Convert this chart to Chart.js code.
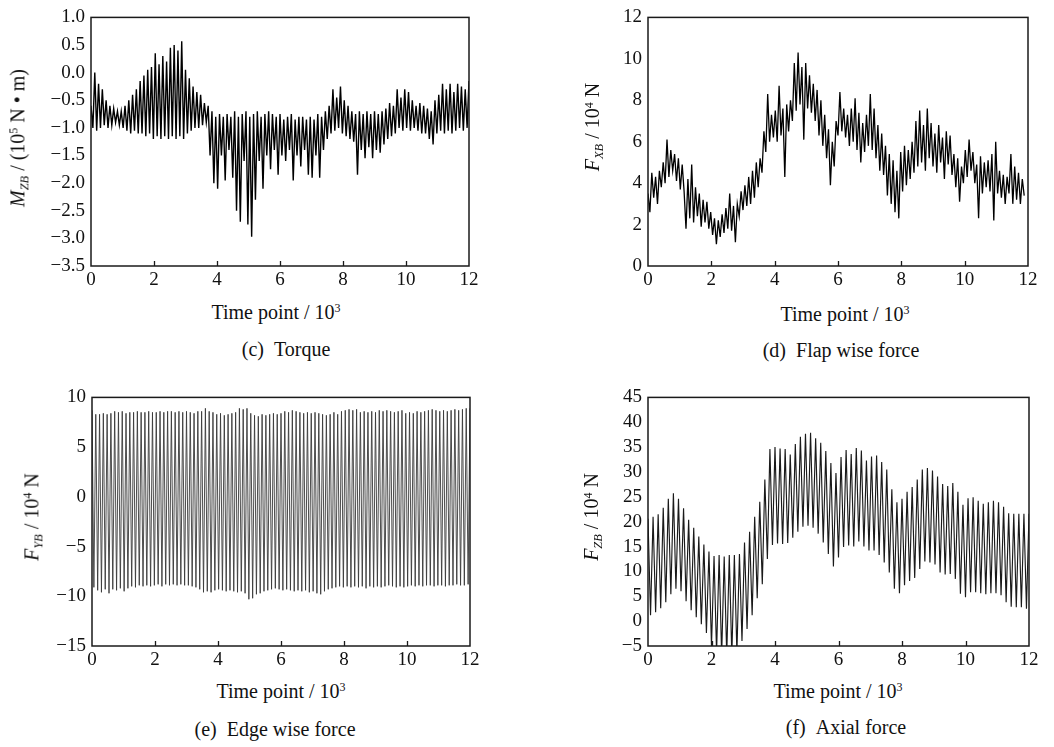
<!DOCTYPE html>
<html>
<head>
<meta charset="utf-8">
<script src="https://cdn.jsdelivr.net/npm/chart.js@4.4.1/dist/chart.umd.min.js"></script>
<style>
  html, body { margin: 0; padding: 0; background: #fff; }
  body { width: 1054px; height: 747px; position: relative; overflow: hidden;
         font-family: 'Liberation Serif', 'Times New Roman', serif; color: #111; }
  .pane { position: absolute; width: 490px; height: 300px; }
  .lbl { position: absolute; white-space: nowrap; transform: translate(-50%, -50%); font-size: 20px; line-height: 1; }
  .rot { transform: translate(-50%, -50%) rotate(-90deg); }
  .lbl sub { font-size: 0.62em; vertical-align: -0.3em; }
  .lbl sup { font-size: 0.6em; vertical-align: 0.55em; }
</style>
</head>
<body>
<div class="pane" style="left:0px;top:0px;"><canvas id="cT" width="490" height="300"></canvas></div>
<div class="pane" style="left:560px;top:0px;"><canvas id="cF" width="490" height="300"></canvas></div>
<div class="pane" style="left:0px;top:380px;"><canvas id="cE" width="490" height="300"></canvas></div>
<div class="pane" style="left:560px;top:380px;"><canvas id="cA" width="490" height="300"></canvas></div>

<div class="lbl rot" style="left:19px;top:138px;"><i>M</i><sub><i>ZB</i></sub> / (10<sup>5</sup> N • m)</div>
<div class="lbl rot" style="left:594px;top:127px;"><i>F</i><sub><i>XB</i></sub> / 10<sup>4</sup> N</div>
<div class="lbl rot" style="left:33px;top:517px;"><i>F</i><sub><i>YB</i></sub> / 10<sup>4</sup> N</div>
<div class="lbl rot" style="left:593px;top:517px;"><i>F</i><sub><i>ZB</i></sub> / 10<sup>4</sup> N</div>

<div class="lbl" style="left:276px;top:312px;">Time point / 10<sup>3</sup></div>
<div class="lbl" style="left:845px;top:314px;">Time point / 10<sup>3</sup></div>
<div class="lbl" style="left:281px;top:691px;">Time point / 10<sup>3</sup></div>
<div class="lbl" style="left:838px;top:691px;">Time point / 10<sup>3</sup></div>

<div class="lbl" style="left:286px;top:349px;">(c)&nbsp;&nbsp;Torque</div>
<div class="lbl" style="left:841px;top:350px;">(d)&nbsp;&nbsp;Flap wise force</div>
<div class="lbl" style="left:275px;top:729px;">(e)&nbsp;&nbsp;Edge wise force</div>
<div class="lbl" style="left:846px;top:727px;">(f)&nbsp;&nbsp;Axial force</div>

<script>
// ---- time points (in 10^3) ----
const timeA = [0,0.08,0.16,0.24,0.32,0.4,0.48,0.56,0.64,0.72,0.8,0.88,0.96,1.04,1.12,1.2,1.28,1.36,1.44,1.52,1.6,1.68,1.76,1.84,1.92,2,2.08,2.16,2.24,2.32,2.4,2.48,2.56,2.64,2.72,2.8,2.88,2.96,3.04,3.12,3.2,3.28,3.36,3.44,3.52,3.6,3.68,3.76,3.84,3.92,4,4.08,4.16,4.24,4.32,4.4,4.48,4.56,4.64,4.72,4.8,4.88,4.96,5.04,5.12,5.2,5.28,5.36,5.44,5.52,5.6,5.68,5.76,5.84,5.92,6,6.08,6.16,6.24,6.32,6.4,6.48,6.56,6.64,6.72,6.8,6.88,6.96,7.04,7.12,7.2,7.28,7.36,7.44,7.52,7.6,7.68,7.76,7.84,7.92,8,8.08,8.16,8.24,8.32,8.4,8.48,8.56,8.64,8.72,8.8,8.88,8.96,9.04,9.12,9.2,9.28,9.36,9.44,9.52,9.6,9.68,9.76,9.84,9.92,10,10.08,10.16,10.24,10.32,10.4,10.48,10.56,10.64,10.72,10.8,10.88,10.96,11.04,11.12,11.2,11.28,11.36,11.44,11.52,11.6,11.68,11.76,11.84,11.92,12];

const timeB = [0,0.06,0.12,0.18,0.24,0.3,0.36,0.42,0.48,0.54,0.6,0.66,0.72,0.78,0.84,0.9,0.96,1.02,1.08,1.14,1.2,1.26,1.32,1.38,1.44,1.5,1.56,1.62,1.68,1.74,1.8,1.86,1.92,1.98,2.04,2.1,2.16,2.22,2.28,2.34,2.4,2.46,2.52,2.58,2.64,2.7,2.76,2.82,2.88,2.94,3,3.06,3.12,3.18,3.24,3.3,3.36,3.42,3.48,3.54,3.6,3.66,3.72,3.78,3.84,3.9,3.96,4.02,4.08,4.14,4.2,4.26,4.32,4.38,4.44,4.5,4.56,4.62,4.68,4.74,4.8,4.86,4.92,4.98,5.04,5.1,5.16,5.22,5.28,5.34,5.4,5.46,5.52,5.58,5.64,5.7,5.76,5.82,5.88,5.94,6,6.06,6.12,6.18,6.24,6.3,6.36,6.42,6.48,6.54,6.6,6.66,6.72,6.78,6.84,6.9,6.96,7.02,7.08,7.14,7.2,7.26,7.32,7.38,7.44,7.5,7.56,7.62,7.68,7.74,7.8,7.86,7.92,7.98,8.04,8.1,8.16,8.22,8.28,8.34,8.4,8.46,8.52,8.58,8.64,8.7,8.76,8.82,8.88,8.94,9,9.06,9.12,9.18,9.24,9.3,9.36,9.42,9.48,9.54,9.6,9.66,9.72,9.78,9.84,9.9,9.96,10.02,10.08,10.14,10.2,10.26,10.32,10.38,10.44,10.5,10.56,10.62,10.68,10.74,10.8,10.86,10.92,10.98,11.04,11.1,11.16,11.22,11.28,11.34,11.4,11.46,11.52,11.58,11.64,11.7,11.76,11.82,11.88,11.94,12];

// ---- (c) Torque M_ZB, 10^5 N·m (on timeB) ----
const torque = [
 -0.6,-1.0,0.0,-1.05,-0.2,-1.0,
 -0.3,-0.95,-0.5,-1.0,-0.6,-0.95,-0.65,-0.9,-0.7,-0.95,
 -0.7,-1.0,-0.6,-1.05,-0.5,-1.1,-0.4,-1.05,-0.3,-1.1,
 -0.15,-1.1,-0.05,-1.15,0.05,-1.1,0.1,-1.2,0.35,-1.15,
 0.15,-1.2,0.3,-1.15,0.2,-1.2,0.45,-1.15,0.5,-1.2,
 0.4,-1.15,0.57,-1.2,0.05,-1.1,-0.1,-1.05,-0.25,-1.0,
 -0.35,-1.0,-0.4,-0.95,-0.55,-0.9,-0.6,-1.5,-0.7,-2.0,
 -0.8,-2.1,-0.75,-1.5,-0.8,-1.95,-0.75,-1.4,-0.8,-1.9,
 -0.7,-2.5,-0.8,-2.7,-0.75,-1.6,-0.7,-2.75,-0.8,-2.97,
 -0.75,-2.3,-0.7,-1.6,-0.8,-2.1,-0.75,-1.5,-0.7,-1.75,
 -0.75,-1.4,-0.8,-1.85,-0.75,-1.5,-0.85,-1.6,-0.8,-1.4,
 -0.75,-1.95,-0.85,-1.5,-0.8,-1.7,-0.8,-1.4,-0.85,-1.85,
 -0.8,-1.9,-0.85,-1.5,-0.75,-1.9,-0.8,-1.4,-0.7,-1.2,
 -0.6,-1.1,-0.3,-1.05,-0.45,-1.0,-0.25,-1.1,-0.5,-1.15,
 -0.6,-1.2,-0.7,-1.25,-0.75,-1.85,-0.7,-1.4,-0.75,-1.55,
 -0.7,-1.35,-0.75,-1.55,-0.7,-1.4,-0.75,-1.45,-0.7,-1.3,
 -0.65,-1.2,-0.55,-1.15,-0.6,-1.1,-0.3,-1.0,-0.45,-1.05,
 -0.3,-1.0,-0.35,-1.05,-0.5,-1.0,-0.6,-1.05,-0.55,-1.1,
 -0.6,-1.1,-0.65,-1.2,-0.7,-1.3,-0.5,-1.1,-0.4,-1.05,
 -0.2,-1.1,-0.3,-1.05,-0.2,-1.1,-0.35,-1.05,-0.2,-1.0,
 -0.25,-1.05,-0.3,-1.0,-0.15];

// ---- (d) Flap wise force F_XB, 10^4 N (on timeB) ----
const flapwise = [
 3.5,2.6,4.5,3.3,4.3,3.0,4.6,3.8,5.0,4.0,
 6.1,4.3,5.6,4.6,5.4,4.1,5.2,3.7,4.9,3.6,
 1.8,4.2,2.3,4.9,2.1,3.8,2.4,3.5,1.9,3.2,
 2.1,3.1,1.8,2.6,1.5,2.3,1.05,2.2,1.4,2.5,
 1.6,2.8,1.8,3.5,1.7,2.9,1.15,3.0,2.4,3.6,
 2.7,3.9,2.9,4.3,3.0,4.6,3.3,5.0,3.8,5.2,
 4.5,6.5,5.5,8.3,6.0,7.3,6.2,7.5,6.0,8.7,
 6.3,7.6,4.3,7.8,6.5,8.0,7.0,9.8,7.5,10.3,
 7.8,9.6,6.1,9.8,7.6,9.2,7.4,8.8,7.0,8.5,
 6.3,8.0,5.8,7.3,5.2,6.6,3.9,6.0,4.8,7.0,
 6.3,8.4,6.5,7.6,6.2,7.3,5.8,7.6,6.0,8.1,
 5.6,7.4,5.0,6.9,5.5,7.3,5.8,8.3,5.6,7.6,
 5.2,6.8,4.6,6.4,4.4,5.8,3.4,5.4,3.0,5.1,
 2.6,4.6,2.3,5.5,3.6,5.8,3.9,5.6,4.2,6.0,
 4.5,7.0,4.8,7.5,5.0,6.8,4.6,7.6,5.2,6.9,
 4.8,6.4,4.5,6.8,5.0,6.2,4.2,6.5,4.9,6.3,
 4.4,5.4,3.8,5.2,3.1,4.8,4.0,5.6,4.3,6.1,
 4.6,5.5,4.0,4.9,2.3,5.3,3.5,5.0,3.8,5.1,
 3.6,5.4,2.2,6.0,3.5,4.6,3.3,4.4,3.0,4.3,
 3.5,5.4,3.0,4.8,3.2,4.5,3.0,4.2,3.4];

// ---- (e) Edge wise force F_YB, 10^4 N (on timeB) ----
const edgewise = [
 8.7,-9.1,8.3,-9.4,8.3,-9.6,8.4,-9.3,8.3,-9.7,
 8.4,-9.3,8.6,-9.4,8.5,-9.2,8.6,-9.5,8.4,-9.2,
 8.5,-9.0,8.5,-9.1,8.6,-8.9,8.5,-9.0,8.5,-8.9,
 8.6,-9.0,8.5,-8.9,8.5,-8.8,8.6,-9.0,8.5,-8.8,
 8.6,-8.9,8.6,-8.8,8.5,-8.9,8.6,-8.8,8.5,-8.9,
 8.6,-8.9,8.5,-9.0,8.4,-9.1,8.6,-9.3,8.6,-9.6,
 8.9,-9.5,8.6,-9.6,8.5,-9.4,8.3,-9.3,8.4,-9.4,
 8.2,-9.5,8.3,-9.4,8.4,-9.5,8.5,-9.6,8.9,-9.5,
 8.8,-9.7,8.9,-10.3,8.4,-10.2,8.2,-9.8,8.1,-9.7,
 8.3,-9.5,8.2,-9.4,8.3,-9.3,8.4,-9.2,8.3,-9.3,
 8.4,-9.4,8.6,-9.3,8.5,-9.4,8.7,-9.5,8.6,-9.4,
 8.5,-9.5,8.4,-9.4,8.5,-9.6,8.4,-9.5,8.5,-9.7,
 8.4,-9.8,8.3,-9.5,8.2,-9.3,8.3,-9.2,8.5,-9.1,
 8.3,-9.0,8.6,-9.1,8.7,-9.0,8.8,-9.1,8.7,-9.0,
 8.8,-9.1,8.5,-9.0,8.6,-9.2,8.5,-9.0,8.6,-9.1,
 8.5,-9.0,8.7,-9.1,8.6,-9.0,8.7,-8.9,8.6,-9.0,
 8.5,-9.1,8.6,-9.0,8.7,-9.1,8.4,-9.0,8.5,-8.9,
 8.4,-9.0,8.6,-8.9,8.5,-9.0,8.6,-8.9,8.7,-8.9,
 8.8,-9.0,8.7,-8.9,8.6,-8.9,8.7,-9.0,8.6,-8.9,
 8.7,-8.9,8.8,-8.8,8.7,-8.9,8.8,-8.9,8.9,-8.8,8.9];

// ---- (f) Axial force F_ZB, 10^4 N (on timeA) ----
const axial = [
 20.6,1.2,21,1.8,21.5,2.6,22.8,3.8,24.6,5.4,
 25.7,6.5,24.6,6.0,22.7,4.0,20.4,2.2,18.8,0.8,
 17.0,-0.6,15.4,-2.4,14.0,-5.1,13.1,-6.5,13.3,-7,
 13.0,-7,13.3,-7,13.3,-6.5,13.5,-4.0,15.8,-1.6,
 18.0,1.2,21.0,4.6,24.0,7.4,28.5,12.5,34.6,15.3,
 35.0,15.6,34.7,15.5,34.6,15.7,33.5,16.8,35.6,18.0,
 37.1,19.0,37.7,19.2,37.9,18.8,36.8,17.6,35.9,15.8,
 34.2,13.5,31.8,11.0,29.8,12.8,33.0,14.9,34.4,15.2,
 33.6,15.0,34.8,16.0,34.3,15.0,32.3,14.2,33.1,14.2,
 33.3,13.3,32.0,11.8,30.5,9.8,26.5,6.5,23.9,5.6,
 24.6,7.2,26.0,8.1,27.0,8.7,28.5,10.5,30.5,12.0,
 30.8,11.8,30.3,11.4,29.1,9.8,27.6,9.4,27.2,9.5,
 27.8,8.5,26.0,5.5,23.4,4.8,24.7,5.8,24.9,5.8,
 24.2,5.6,23.6,5.4,23.9,5.6,24.2,5.6,23.9,5.2,
 23.0,3.8,21.7,2.9,21.6,2.8,21.6,2.8,21.6,2.5,
 21.6];

// ---- tick labels ----
const xTicks = [0, 2, 4, 6, 8, 10, 12];
const torqueTicks = [-3.5, -3.0, -2.5, -2.0, -1.5, -1.0, -0.5, 0.0, 0.5, 1.0];
const flapTicks = [0, 2, 4, 6, 8, 10, 12];
const edgeTicks = [-15, -10, -5, 0, 5, 10];
const axialTicks = [-5, 0, 5, 10, 15, 20, 25, 30, 35, 40, 45];

const fmtMinus = v => String(v).replace('-', '\u2212');
const fmtOneDec = v => v.toFixed(1).replace('-', '\u2212');

Chart.defaults.font.family = "'Liberation Serif', 'Times New Roman', serif";
Chart.defaults.font.size = 19;
Chart.defaults.color = '#111';

const framePlugin = {
  id: 'frame',
  afterDatasetsDraw(chart) {
    const { ctx, chartArea: a, scales } = chart;
    const x = scales.x;
    ctx.save();
    ctx.strokeStyle = '#1a1a1a';
    ctx.lineWidth = 1.5;
    ctx.strokeRect(a.left, a.top, a.right - a.left, a.bottom - a.top);
    ctx.lineWidth = 1.3;
    x.ticks.forEach(t => {
      if (t.value > x.min && t.value < x.max) {
        const px = Math.round(x.getPixelForValue(t.value)) + 0.5;
        ctx.beginPath();
        ctx.moveTo(px, a.bottom);
        ctx.lineTo(px, a.bottom - 5);
        ctx.stroke();
      }
    });
    ctx.restore();
  }
};

function makeChart(id, times, values, cfg) {
  const pts = values.map((v, i) => ({ x: times[i], y: v }));
  return new Chart(document.getElementById(id), {
    type: 'line',
    data: { datasets: [{ data: pts, borderColor: cfg.color, borderWidth: cfg.width,
      pointRadius: 0, tension: 0, fill: false }] },
    options: {
      responsive: false, animation: false, devicePixelRatio: 1,
      layout: { padding: cfg.pad },
      plugins: { legend: { display: false }, tooltip: { enabled: false } },
      scales: {
        x: { type: 'linear', min: 0, max: 12,
             afterBuildTicks: s => { s.ticks = xTicks.map(v => ({ value: v })); },
             ticks: { padding: 3, maxRotation: 0, autoSkip: false, callback: v => String(v) },
             grid: { display: false, drawTicks: false }, border: { display: false },
             afterFit: s => { s.height = cfg.xh; } },
        y: { type: 'linear', min: cfg.ymin, max: cfg.ymax,
             afterBuildTicks: s => { s.ticks = cfg.yticks.map(v => ({ value: v })); },
             ticks: { padding: 6, autoSkip: false, callback: cfg.fmt },
             grid: { display: false, drawTicks: false }, border: { display: false },
             afterFit: s => { s.width = cfg.yw; } }
      }
    },
    plugins: [framePlugin]
  });
}

makeChart('cT', timeB, torque, { color: '#000', width: 1.4, ymin: -3.5, ymax: 1.0,
  yticks: torqueTicks, fmt: fmtOneDec, yw: 91, xh: 34, pad: { left: 0, top: 13, right: 21, bottom: 0 } });
makeChart('cF', timeB, flapwise, { color: '#000', width: 1.3, ymin: 0, ymax: 12,
  yticks: flapTicks, fmt: fmtMinus, yw: 88, xh: 34, pad: { left: 0, top: 13, right: 22, bottom: 0 } });
makeChart('cE', timeB, edgewise, { color: '#3a3a3a', width: 0.9, ymin: -15, ymax: 10,
  yticks: edgeTicks, fmt: fmtMinus, yw: 92, xh: 34, pad: { left: 0, top: 12, right: 20, bottom: 0 } });
makeChart('cA', timeA, axial, { color: '#1a1a1a', width: 1.15, ymin: -5, ymax: 45,
  yticks: axialTicks, fmt: fmtMinus, yw: 88, xh: 34, pad: { left: 0, top: 13, right: 21, bottom: 0 } });
</script>
</body>
</html>
